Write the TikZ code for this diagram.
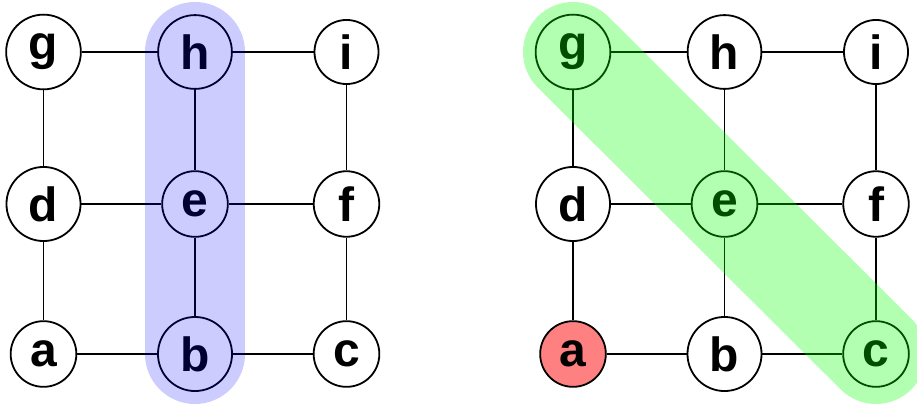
\documentclass[tikz,border=0pt]{standalone}
\usepackage{fontspec}
\setmainfont{Liberation Sans}
\begin{document}
\begin{tikzpicture}[x=1pt,y=-1pt,
  vertex/.style={circle,draw=black,fill=white,line width=1.8pt,inner sep=10pt,
    font=\fontsize{48}{50}\bfseries\selectfont},
  edge/.style={line width=1.8pt},
  bandblue/.style={line width=100pt,line cap=round,draw=blue,draw opacity=0.2},
  bandgreen/.style={line width=100pt,line cap=round,draw=green,draw opacity=0.3}]
\useasboundingbox (0,0) rectangle (917,406);

% left grid
\foreach \n/\x/\y in {g/43.5/52,h/195/52,i/346.5/52,
                      d/43.5/204,e/195/204,f/346.5/204,
                      a/43.5/354,b/195/354,c/346.5/354}
  \node[vertex] (l\n) at (\x,\y) {\n};
% right grid
\foreach \n/\x/\y in {g/573/52,h/724.5/52,i/876/52,
                      d/573/204,e/724.5/204,f/876/204,
                      b/724.5/354,c/876/354}
  \node[vertex] (r\n) at (\x,\y) {\n};
\node[vertex,fill=red!50] (ra) at (573,354) {a};

% edges
\foreach \s in {l,r}{
  \foreach \u/\v in {g/h,h/i,d/e,e/f,a/b,b/c,g/d,d/a,h/e,e/b,i/f,f/c}
    \draw[edge] (\s\u) -- (\s\v);
}

% highlighted paths
\draw[bandblue] (lh.center) -- (lb.center);
\draw[bandgreen] (rg.center) -- (rc.center);
\end{tikzpicture}
\end{document}
